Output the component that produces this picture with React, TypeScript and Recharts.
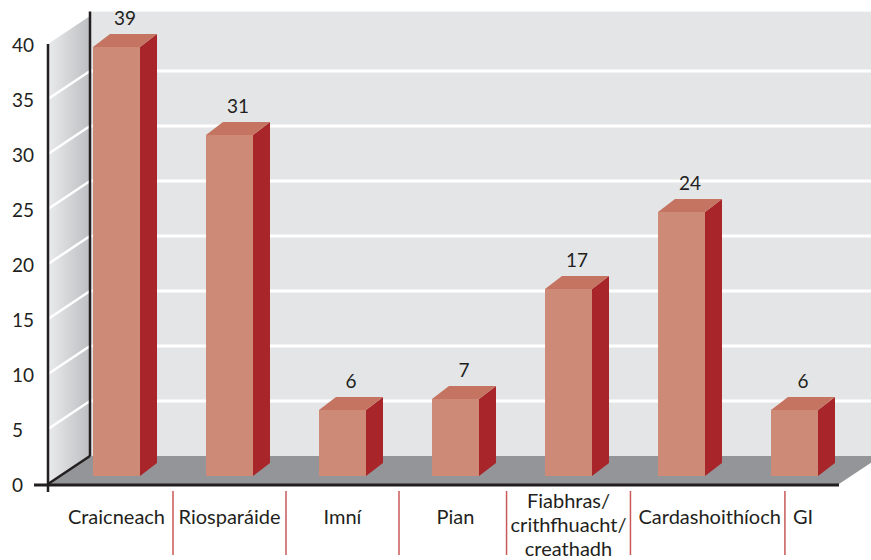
import React from "react";
import { BarChart, Bar, XAxis, YAxis, ReferenceArea, LabelList } from "recharts";

// categories (line breaks kept as in the original labels)
const categories = [
  "Craicneach",
  "Riosparáide",
  "Imní",
  "Pian",
  "Fiabhras/\ncrithfhuacht/\ncreathadh",
  "Cardashoithíoch",
  "GI",
];
const counts = [39, 31, 6, 7, 17, 24, 6];
const yTicks = [0, 5, 10, 15, 20, 25, 30, 35, 40];

const data = categories.map((name, i) => ({ name, value: counts[i] }));

const FONT = "Lato, 'Open Sans', sans-serif";
const LABEL_SIZE = 20;
const TEXT = "#231f20";
const WALL = { x: 42, y: 28 }; // depth of the whole box
const SHIFT = { x: 12, y: 8 }; // bars sit a little behind the front plane
const BOX = { x: 17, y: 13 }; // depth of each bar
const WALL_TOP = 40.4;
const LABEL_GAP = 12;

let measureCtx: CanvasRenderingContext2D | null = null;
function textWidth(s: string) {
  if (!measureCtx) measureCtx = document.createElement("canvas").getContext("2d");
  if (!measureCtx) return s.length * LABEL_SIZE * 0.5;
  measureCtx.font = `${LABEL_SIZE}px Lato`;
  return measureCtx.measureText(s).width;
}

// push labels apart when they would overlap, separators go in the gaps
function layoutLabels(firstCenter: number, band: number) {
  const out: { cx: number; w: number; sep: number | null }[] = [];
  categories.forEach((c, j) => {
    const w = Math.max(...c.split("\n").map(textWidth));
    let cx = firstCenter + j * band;
    let sep: number | null = null;
    if (j > 0) {
      const prev = out[j - 1];
      const prevRight = prev.cx + prev.w / 2;
      if (cx - w / 2 < prevRight + LABEL_GAP) cx = prevRight + LABEL_GAP + w / 2;
      const lo = prevRight + 4;
      const hi = cx - w / 2 - 4;
      const boundary = firstCenter + (j - 0.5) * band;
      sep = lo > hi ? (lo + hi) / 2 : Math.min(Math.max(boundary, lo), hi);
    }
    out.push({ cx, w, sep });
  });
  return out;
}

function Backdrop(props: any) {
  const { x, y, width, height } = props;
  const left = x;
  const right = x + width;
  const bottom = y + height;
  const ppu = height / 40;
  const yOf = (v: number) => bottom - v * ppu;
  const backL = left + WALL.x;
  const backBottom = bottom - WALL.y;
  const backTop = yOf(WALL_TOP) - WALL.y;
  const farRight = right + WALL.x + 40;
  const inner = yTicks.filter((t) => t > 0 && t < 40);
  return (
    <g>
      <defs>
        <linearGradient id="sideWall" x1="0" y1="0" x2="1" y2="0">
          <stop offset="0%" stopColor="#eaebec" />
          <stop offset="100%" stopColor="#bdbec1" />
        </linearGradient>
      </defs>
      <rect x={backL} y={backTop} width={farRight - backL} height={backBottom - backTop} fill="#e4e5e7" />
      <polygon
        points={`${left},${bottom} ${right},${bottom} ${right + WALL.x},${backBottom} ${left + WALL.x},${backBottom}`}
        fill="#939598"
      />
      <polygon
        points={`${left},${bottom} ${left},${yOf(40)} ${backL},${yOf(40) - WALL.y} ${backL},${backBottom}`}
        fill="url(#sideWall)"
      />
      {inner.map((t) => (
        <g key={t}>
          <line x1={backL} x2={farRight} y1={yOf(t) - WALL.y} y2={yOf(t) - WALL.y} stroke="#fff" strokeWidth={3} />
          <line x1={left} x2={backL} y1={yOf(t)} y2={yOf(t) - WALL.y} stroke="#fff" strokeWidth={2.5} />
        </g>
      ))}
      <line x1={backL} x2={backL} y1={backTop} y2={backBottom} stroke="#231f20" strokeWidth={2.5} />
      <line x1={left} x2={backL} y1={bottom} y2={backBottom} stroke="#231f20" strokeWidth={2.5} />
      <line x1={left} x2={left} y1={yOf(40)} y2={bottom + 8} stroke="#231f20" strokeWidth={2.5} />
      <line x1={left - 14} x2={right} y1={bottom + 1} y2={bottom + 1} stroke="#231f20" strokeWidth={3} />
    </g>
  );
}

function Box3D(props: any) {
  const { x, y, width, height } = props;
  if (height == null || width == null) return null;
  const fx = x + SHIFT.x;
  const fy = y - SHIFT.y;
  const fb = y + height - SHIFT.y;
  const w = width;
  return (
    <g>
      <polygon
        points={`${fx + w},${fy} ${fx + w + BOX.x},${fy - BOX.y} ${fx + w + BOX.x},${fb - BOX.y} ${fx + w},${fb}`}
        fill="#a8262a"
      />
      <polygon
        points={`${fx},${fy} ${fx + BOX.x},${fy - BOX.y} ${fx + w + BOX.x},${fy - BOX.y} ${fx + w},${fy}`}
        fill="#c47461"
      />
      <rect x={fx} y={fy} width={w} height={fb - fy} fill="#cd8a76" />
    </g>
  );
}

function ValueLabel(props: any) {
  const { x, y, width, value } = props;
  return (
    <text
      x={x + SHIFT.x + width / 2 + BOX.x / 2}
      y={y - SHIFT.y - BOX.y - 9}
      textAnchor="middle"
      fontFamily={FONT}
      fontSize={19}
      fill={TEXT}
    >
      {value}
    </text>
  );
}

function CategoryTick(props: any) {
  const { x, y, payload, index } = props;
  const lines = String(payload.value).split("\n");
  const half = payload.offset || 56.5;
  const band = half * 2;
  const firstCenter = x + SHIFT.x - index * band;
  const spot = layoutLabels(firstCenter, band)[index];
  return (
    <g>
      {lines.map((ln, i) => (
        <text
          key={i}
          x={spot.cx}
          y={lines.length > 1 ? y + 16 + i * 24 : y + 32}
          textAnchor="middle"
          fontFamily={FONT}
          fontSize={LABEL_SIZE}
          fill={TEXT}
        >
          {ln}
        </text>
      ))}
      {spot.sep != null && (
        <line x1={spot.sep} x2={spot.sep} y1={y - 1} y2={y + 63} stroke="#c8585a" strokeWidth={1.5} />
      )}
    </g>
  );
}

function NumberTick(props: any) {
  const { y, payload } = props;
  return (
    <text x={12} y={y + 8} textAnchor="start" fontFamily={FONT} fontSize={19} fill={TEXT}>
      {payload.value}
    </text>
  );
}

export default function App() {
  return (
    <div style={{ position: "absolute", left: 0, top: 0, background: "#fff" }}>
      <BarChart
        width={871}
        height={560}
        data={data}
        margin={{ top: 44, right: 26, bottom: 0, left: 0 }}
        barSize={47}
      >
        <ReferenceArea y1={0} y2={40} shape={<Backdrop />} ifOverflow="visible" />
        <XAxis
          dataKey="name"
          height={76}
          axisLine={false}
          tickLine={false}
          padding={{ left: 6, right: 6 }}
          interval={0}
          tick={<CategoryTick />}
        />
        <YAxis
          width={42}
          domain={[0, 40]}
          ticks={yTicks}
          axisLine={false}
          tickLine={false}
          tick={<NumberTick />}
        />
        <Bar dataKey="value" shape={<Box3D />} isAnimationActive={false}>
          <LabelList dataKey="value" content={<ValueLabel />} />
        </Bar>
      </BarChart>
    </div>
  );
}
